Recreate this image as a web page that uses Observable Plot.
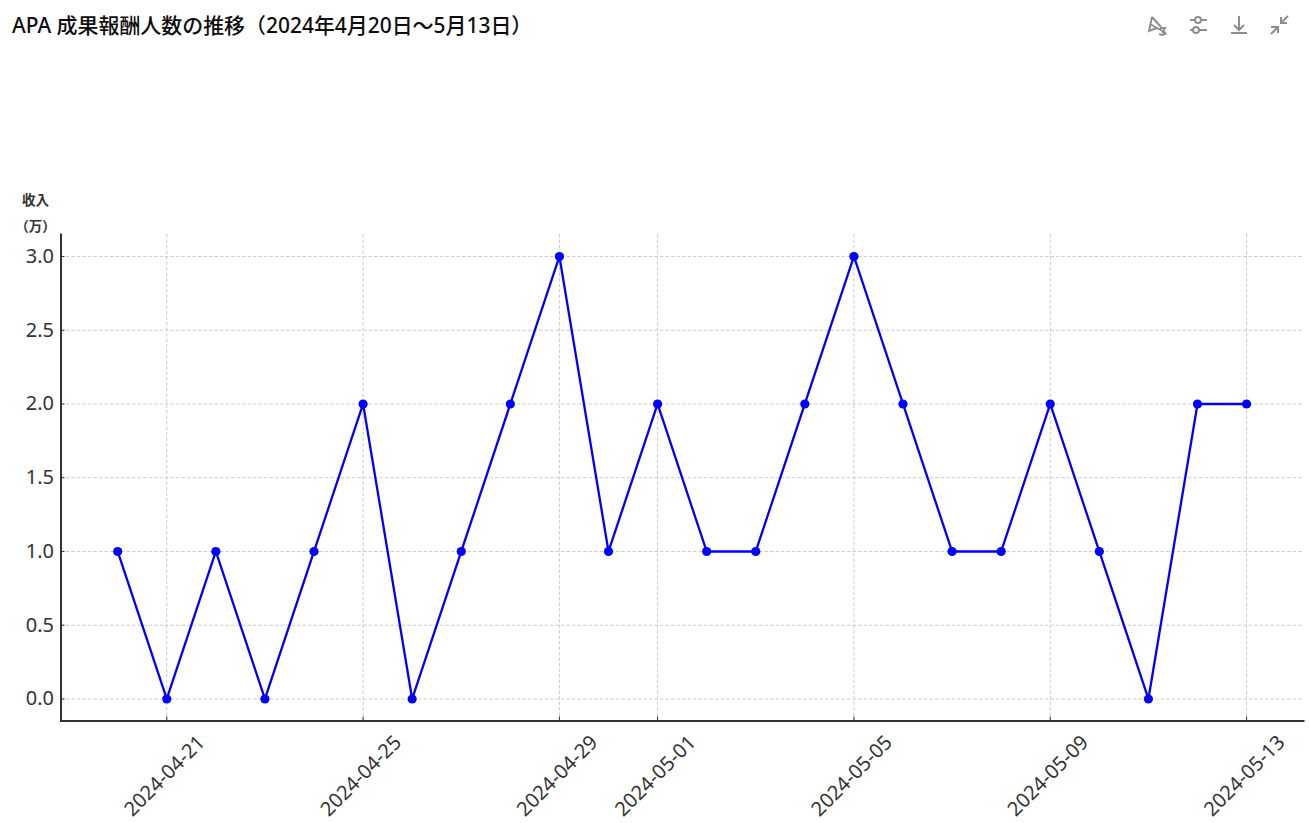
<!DOCTYPE html>
<html lang="ja">
<head>
<meta charset="utf-8">
<script src="https://cdn.jsdelivr.net/npm/d3@7"></script>
<script src="https://cdn.jsdelivr.net/npm/@observablehq/plot@0.6"></script>
<style>
html,body{margin:0;padding:0;background:#fff;overflow:hidden}
#head{position:relative;height:50px;width:1309px}
#title{position:absolute;left:12px;top:11px;font:500 20.95px/28px "Noto Sans","Noto Sans CJK JP",sans-serif;color:#0d0d0d;white-space:nowrap}
#tools{position:absolute;left:0;top:0}
#chart svg{display:block}
</style>
</head>
<body>
<div id="head">
<div id="title">APA 成果報酬人数の推移（2024年4月20日～5月13日）</div>
<svg id="tools" width="1309" height="50" fill="none" stroke="#8e8e8e" stroke-width="2">
<path d="M1152 17l-3 14 8-3M1152 17l9 10M1150 24l16 9M1160 28h5l-2 4 2 2-3 1-3-1"/>
<path d="M1190 20h5m6 0h6M1190 30h3m6 0h8"/><circle cx="1198" cy="20" r="3"/><circle cx="1196" cy="30" r="3"/>
<path d="M1239 16v14M1234 25l5 5 5-5M1231 33h16"/>
<path d="M1288 16l-7 7M1281 17v6h6M1271 34l7-7M1271 27h7v6"/>
</svg>
</div>
<div id="chart"></div>
<script>
const dates = ["2024-04-20","2024-04-21","2024-04-22","2024-04-23","2024-04-24","2024-04-25","2024-04-26","2024-04-27","2024-04-28","2024-04-29","2024-04-30","2024-05-01","2024-05-02","2024-05-03","2024-05-04","2024-05-05","2024-05-06","2024-05-07","2024-05-08","2024-05-09","2024-05-10","2024-05-11","2024-05-12","2024-05-13"];
const counts = [1,0,1,0,1,2,0,1,2,3,1,2,1,1,2,3,2,1,1,2,1,0,2,2];
const xTickLabels = ["2024-04-21","2024-04-25","2024-04-29","2024-05-01","2024-05-05","2024-05-09","2024-05-13"];
const yTicks = [0,0.5,1,1.5,2,2.5,3];
const yLabel = "收入\n（万）";

const table = dates.map((d,i)=>({date:new Date(d),value:counts[i]}));
const xTicks = xTickLabels.map(d=>new Date(d));
const font = '"Noto Sans","Noto Sans CJK JP",sans-serif';
const ink = "#333333";

const plot = Plot.plot({
  width:1309, height:773,
  marginLeft:60.5, marginRight:6, marginTop:184, marginBottom:102.5,
  style:{fontFamily:font,background:"#fff",overflow:"visible"},
  x:{type:"utc",domain:[new Date("2024-04-18T20:17:00Z"),new Date("2024-05-14T03:50:00Z")]},
  y:{domain:[-0.1493,3.149]},
  marks:[
    Plot.gridX(xTicks,{stroke:"#cccccc",strokeOpacity:1,strokeWidth:1,strokeDasharray:"3.5 2"}),
    Plot.gridY(yTicks,{stroke:"#cccccc",strokeOpacity:1,strokeWidth:1,strokeDasharray:"3.5 2"}),
    Plot.axisX(xTicks,{anchor:"bottom",tickSize:0,tickPadding:55,tickRotate:-45,textAnchor:"middle",lineAnchor:"middle",dx:-2,
      tickFormat:d3.utcFormat("%Y-%m-%d"),fontSize:20,fill:ink,label:null}),
    Plot.ruleX(xTicks,{y1:-0.1493,y2:-0.122,stroke:ink,strokeWidth:1}),
    Plot.axisY(yTicks,{anchor:"left",tickSize:-4,tickPadding:11,tickFormat:d=>d.toFixed(1),fontSize:20,fill:ink,stroke:ink,strokeWidth:1,label:null}),
    Plot.frame({anchor:"left",stroke:ink,strokeWidth:2}),
    Plot.frame({anchor:"bottom",stroke:ink,strokeWidth:2}),
    Plot.line(table,{x:"date",y:"value",stroke:"#0000ff",strokeWidth:2.3,curve:"linear"}),
    Plot.dot(table,{x:"date",y:"value",r:4.6,fill:"#0000ff",stroke:"none"}),
    Plot.text([yLabel],{frameAnchor:"top-left",dx:-25.5,dy:-48,text:d=>d,textAnchor:"middle",lineAnchor:"top",lineHeight:1.93,fontSize:13.5,fontWeight:700,fill:ink})
  ]
});
document.getElementById("chart").append(plot);
</script>
</body>
</html>
